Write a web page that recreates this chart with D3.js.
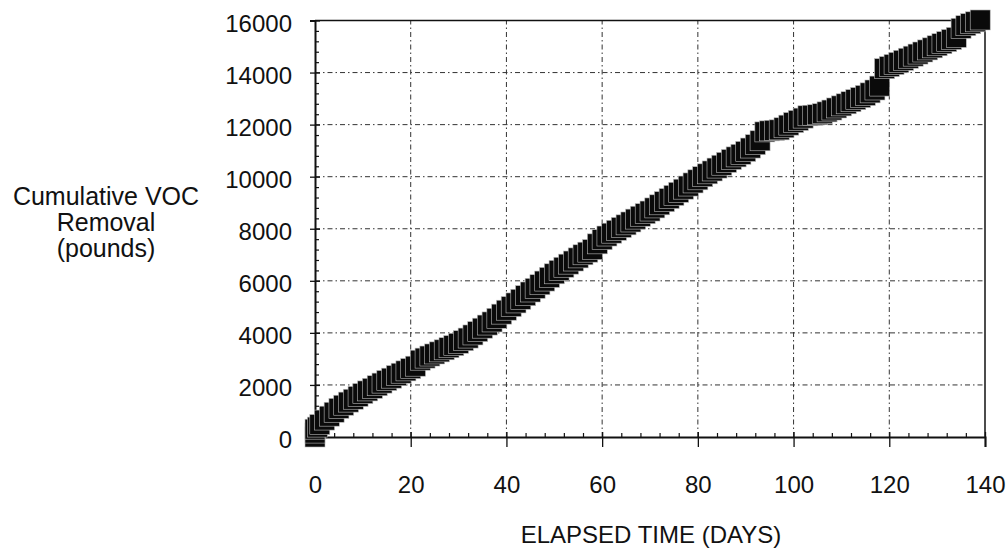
<!DOCTYPE html>
<html>
<head>
<meta charset="utf-8">
<script src="https://cdnjs.cloudflare.com/ajax/libs/d3/7.8.5/d3.min.js"></script>
<style>
  body { margin: 0; background: #fff; }
  text { font-family: "Liberation Sans", Arial, Helvetica, sans-serif; fill: #111; }
</style>
</head>
<body>
<div id="chart"></div>
<script>
// elapsed time (days) and cumulative VOC removal (pounds)
var days = [0, 0, 0, 0.5, 1, 2, 3, 4, 5, 6, 7, 8, 9, 10, 11, 12, 13, 14, 15, 16, 17, 18, 19,
  20, 21, 22, 23, 24, 25, 26, 27, 28, 29, 30, 31, 32, 33, 34, 35, 36, 37, 38, 39,
  40, 41, 42, 43, 44, 45, 46, 47, 48, 49, 50, 51, 52, 53, 54, 55, 56, 57, 58, 59,
  60, 61, 62, 63, 64, 65, 66, 67, 68, 69, 70, 71, 72, 73, 74, 75, 76, 77, 78, 79,
  80, 81, 82, 83, 84, 85, 86, 87, 88, 89, 90, 91, 92, 93, 94, 95, 96, 97, 98, 99,
  100, 101, 102, 103, 104, 105, 106, 107, 108, 109, 110, 111, 112, 113, 114, 115, 116, 117, 118, 119,
  120, 121, 122, 123, 124, 125, 126, 127, 128, 129, 130, 131, 132, 133, 134, 135, 136, 137, 138, 139]

var removal = [0, 150, 300, 380, 480, 650, 800, 950, 1100, 1220, 1340, 1450, 1560, 1670, 1770, 1870, 1970, 2070, 2170, 2260, 2360, 2450, 2540,
  2630, 2720, 2950, 3030, 3110, 3190, 3270, 3350, 3430, 3510, 3600, 3700, 3800, 3920, 4050, 4180, 4300, 4420, 4560, 4720,
  4870, 5010, 5150, 5290, 5430, 5570, 5710, 5850, 5990, 6130, 6270, 6400, 6520, 6640, 6760, 6880, 7000, 7100, 7200, 7420,
  7580, 7720, 7830, 7940, 8050, 8150, 8260, 8370, 8480, 8580, 8680, 8800, 8920, 9040, 9160, 9280, 9400, 9520, 9640, 9760,
  9880, 10000, 10110, 10220, 10330, 10440, 10550, 10660, 10760, 10860, 10970, 11100, 11230, 11380, 11720, 11760, 11780, 11800, 11880, 11980,
  12080, 12160, 12250, 12340, 12360, 12380, 12420, 12490, 12560, 12640, 12720, 12800, 12880, 12960, 13040, 13120, 13220, 13330, 13480, 14150,
  14230, 14310, 14390, 14470, 14550, 14630, 14710, 14790, 14870, 14950, 15030, 15110, 15190, 15270, 15350, 15700, 15800, 15880, 15950, 16020]

var xTicks = [0, 20, 40, 60, 80, 100, 120, 140]
var yTicks = [0, 2000, 4000, 6000, 8000, 10000, 12000, 14000, 16000]
var xMinor = [4, 8, 12, 16, 24, 28, 32, 36, 44, 48, 52, 56, 64, 68, 72, 76, 84, 88, 92, 96, 104, 108, 112, 116, 124, 128, 132, 136]
var yMinor = [400, 800, 1200, 1600, 2400, 2800, 3200, 3600, 4400, 4800, 5200, 5600, 6400, 6800, 7200, 7600,
  8400, 8800, 9200, 9600, 10400, 10800, 11200, 11600, 12400, 12800, 13200, 13600, 14400, 14800, 15200, 15600]

var width = 1007,
  height = 549,
  box = 20

var svg = d3.select("#chart")
  .append("svg")
  .attr("width", width)
  .attr("height", height)

var x = d3.scaleLinear().domain([0, 140]).range([315, 985])
var y = d3.scaleLinear().domain([0, 16000]).range([437, 20.5])

// dash-dot grid
svg.append("g")
  .selectAll("line")
  .data(xTicks.slice(1, -1))
  .enter().append("line")
  .attr("x1", function (d) { return x(d) })
  .attr("x2", function (d) { return x(d) })
  .attr("y1", y(0))
  .attr("y2", y(16000))
  .attr("stroke", "#333")
  .attr("stroke-width", 1)
  .attr("stroke-dasharray", "5,3,1.5,3")

svg.append("g")
  .selectAll("line")
  .data(yTicks.slice(1, -1))
  .enter().append("line")
  .attr("x1", x(0))
  .attr("x2", x(140))
  .attr("y1", function (d) { return y(d) })
  .attr("y2", function (d) { return y(d) })
  .attr("stroke", "#333")
  .attr("stroke-width", 1)
  .attr("stroke-dasharray", "5,3,1.5,3")

// top and right frame
svg.append("line")
  .attr("x1", x(0)).attr("x2", x(140))
  .attr("y1", y(16000)).attr("y2", y(16000))
  .attr("stroke", "#111").attr("stroke-width", 1.5)
svg.append("line")
  .attr("x1", x(140)).attr("x2", x(140))
  .attr("y1", y(16000)).attr("y2", y(0))
  .attr("stroke", "#111").attr("stroke-width", 1.5)

// minor ticks, inside the plot
svg.append("g")
  .attr("transform", "translate(0," + y(0) + ")")
  .call(d3.axisBottom(x).tickValues(xMinor).tickSize(-4).tickFormat(""))
  .call(function (g) { g.select(".domain").remove() })
  .selectAll("line").attr("stroke", "#111").attr("stroke-width", 1.2)

svg.append("g")
  .attr("transform", "translate(" + x(0) + ",0)")
  .call(d3.axisLeft(y).tickValues(yMinor).tickSize(-4).tickFormat(""))
  .call(function (g) { g.select(".domain").remove() })
  .selectAll("line").attr("stroke", "#111").attr("stroke-width", 1.2)

// major axes
var xAxis = svg.append("g")
  .attr("transform", "translate(0," + y(0) + ")")
  .call(d3.axisBottom(x).tickValues(xTicks).tickSizeOuter(0).tickSize(10).tickFormat(d3.format("d")))

xAxis.select(".domain").attr("stroke", "#111").attr("stroke-width", 2)
xAxis.selectAll(".tick line").attr("y1", -5).attr("y2", 10).attr("stroke", "#111").attr("stroke-width", 1.3)
xAxis.selectAll(".tick text")
  .attr("y", 56).attr("dy", 0)
  .style("font-size", "24px")

var yAxis = svg.append("g")
  .attr("transform", "translate(" + x(0) + ",0)")
  .call(d3.axisLeft(y).tickValues(yTicks).tickSizeOuter(0).tickSize(5).tickFormat(d3.format("d")))

yAxis.select(".domain").attr("stroke", "#111").attr("stroke-width", 2)
yAxis.selectAll(".tick line").attr("x1", -5).attr("x2", 5).attr("stroke", "#111").attr("stroke-width", 1.3)
yAxis.selectAll(".tick text")
  .attr("x", -23).attr("dy", "0.45em")
  .style("font-size", "24px")

svg.selectAll(".tick text").attr("fill", "#111").attr("font-family", null)

// markers
var points = days.map(function (d, i) { return { day: d, lbs: removal[i] } })

svg.append("g")
  .selectAll(".marker")
  .data(points)
  .enter().append("rect")
  .attr("class", "marker")
  .attr("x", function (d) { return x(d.day) - box / 2 })
  .attr("y", function (d) { return y(d.lbs) - box / 2 })
  .attr("width", box)
  .attr("height", box)
  .attr("fill", "#0a0a0a")
  .attr("stroke", "#bbb")
  .attr("stroke-width", 0.6)

// axis titles
svg.append("text")
  .attr("x", 651)
  .attr("y", 543)
  .attr("text-anchor", "middle")
  .style("font-size", "24px")
  .text("ELAPSED TIME (DAYS)")

var ylab = svg.append("text")
  .attr("text-anchor", "middle")
  .style("font-size", "25px")
ylab.selectAll("tspan")
  .data(["Cumulative VOC", "Removal", "(pounds)"])
  .enter().append("tspan")
  .attr("x", 106)
  .attr("y", function (d, i) { return 205 + i * 26 })
  .text(function (d) { return d })
</script>
</body>
</html>
